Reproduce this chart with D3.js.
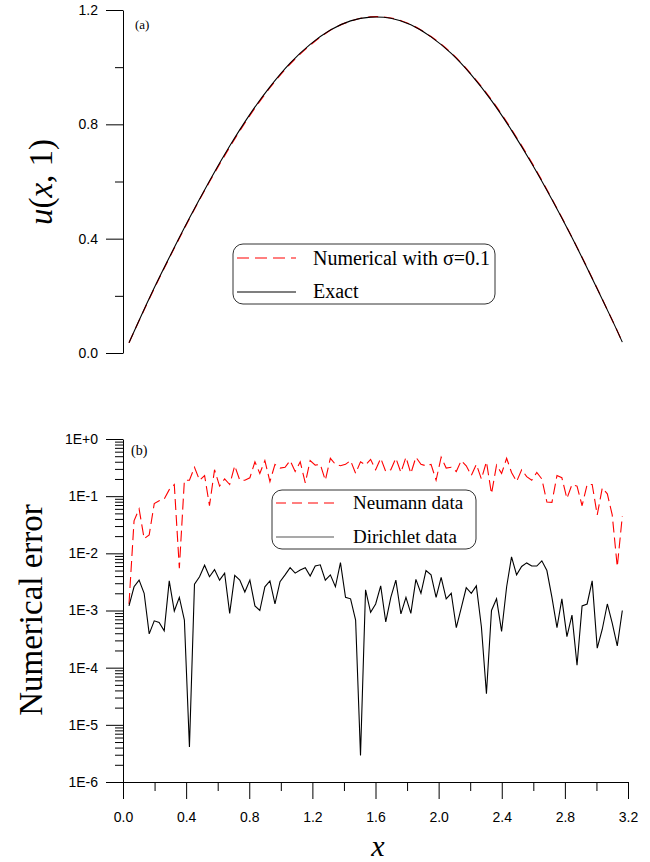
<!DOCTYPE html>
<html>
<head>
<meta charset="utf-8">
<script src="https://cdn.jsdelivr.net/npm/d3@7"></script>
<style>
  body { margin: 0; background: #fff; }
  .tick text { font-family: "Liberation Sans", Arial, sans-serif; font-size: 14px; fill: #000; }
  .serif { font-family: "Liberation Serif", "Times New Roman", serif; }
</style>
</head>
<body>
<div id="chart"></div>
<script>
// ---- data ----
// panel (a): u(x,1)
const xTop = [0.038, 0.166, 0.293, 0.421, 0.548, 0.676, 0.804, 0.931, 1.059, 1.186, 1.314, 1.442, 1.569,
  1.697, 1.824, 1.952, 2.080, 2.207, 2.335, 2.462, 2.590, 2.718, 2.845, 2.973, 3.100, 3.164];
const uExact = [0.036, 0.191, 0.334, 0.472, 0.602, 0.724, 0.835, 0.931, 1.014, 1.080, 1.130, 1.162, 1.175,
  1.171, 1.148, 1.106, 1.048, 0.973, 0.883, 0.779, 0.663, 0.537, 0.404, 0.261, 0.115, 0.038];
const uNumerical = [0.036, 0.189, 0.332, 0.470, 0.599, 0.720, 0.831, 0.928, 1.011, 1.077, 1.129, 1.161, 1.176,
  1.172, 1.149, 1.107, 1.050, 0.975, 0.886, 0.782, 0.666, 0.539, 0.405, 0.262, 0.115, 0.038];

// panel (b): numerical error
const xGrid = [0.038, 0.070, 0.102, 0.134, 0.166, 0.198, 0.229, 0.261, 0.293, 0.325, 0.357, 0.389, 0.421,
  0.453, 0.485, 0.517, 0.548, 0.580, 0.612, 0.644, 0.676, 0.708, 0.740, 0.772, 0.804, 0.836, 0.867, 0.899,
  0.931, 0.963, 0.995, 1.027, 1.059, 1.091, 1.123, 1.155, 1.186, 1.218, 1.250, 1.282, 1.314, 1.346, 1.378,
  1.410, 1.442, 1.474, 1.505, 1.537, 1.569, 1.601, 1.633, 1.665, 1.697, 1.729, 1.761, 1.793, 1.824, 1.856,
  1.888, 1.920, 1.952, 1.984, 2.016, 2.048, 2.080, 2.112, 2.143, 2.175, 2.207, 2.239, 2.271, 2.303, 2.335,
  2.367, 2.399, 2.431, 2.462, 2.494, 2.526, 2.558, 2.590, 2.622, 2.654, 2.686, 2.718, 2.750, 2.781, 2.813,
  2.845, 2.877, 2.909, 2.941, 2.973, 3.005, 3.037, 3.069, 3.100, 3.132, 3.164];
const neumannErr = [1.3e-3, 0.037, 0.060, 0.018, 0.021, 0.074, 0.083, 0.089, 0.13, 0.16, 0.0055, 0.19, 0.19,
  0.32, 0.19, 0.23, 0.068, 0.29, 0.15, 0.20, 0.16, 0.34, 0.19, 0.19,
  0.21, 0.40, 0.25, 0.42, 0.18, 0.36, 0.31, 0.32, 0.42, 0.27, 0.40, 0.17, 0.42, 0.35, 0.36, 0.19, 0.46,
  0.36, 0.34, 0.36, 0.42, 0.25, 0.40, 0.35, 0.44,
  0.29, 0.46, 0.27, 0.29, 0.46, 0.26, 0.48, 0.25, 0.48, 0.36, 0.34, 0.36, 0.19, 0.48, 0.31, 0.32, 0.27,
  0.42, 0.34, 0.23, 0.36, 0.20, 0.40, 0.11, 0.35,
  0.25, 0.46, 0.26, 0.18, 0.29, 0.22, 0.19, 0.26, 0.20, 0.079, 0.078, 0.23, 0.21, 0.091, 0.16, 0.15, 0.068,
  0.16, 0.16, 0.047, 0.14, 0.11, 0.047, 0.0058, 0.045];
const dirichletErr = [1.2e-3, 2.6e-3, 3.4e-3, 2.0e-3, 3.9e-4, 6.6e-4, 6.2e-4, 4.4e-4, 3.3e-3, 9.8e-4, 1.7e-3,
  6.8e-4, 4.1e-6, 2.9e-3, 3.9e-3, 6.2e-3, 3.9e-3, 5.2e-3, 3.4e-3, 4.5e-3, 8.9e-4, 4.1e-3, 3.4e-3, 2.1e-3,
  3.4e-3, 1.2e-3, 1.0e-3, 2.6e-3, 3.3e-3, 1.3e-3, 3.2e-3, 4.2e-3, 5.6e-3, 4.5e-3, 5.1e-3, 5.6e-3, 4.0e-3,
  6.0e-3, 6.3e-3, 3.4e-3, 4.2e-3, 2.6e-3, 6.9e-3, 1.7e-3, 1.6e-3, 6.8e-4, 2.9e-6, 2.3e-3, 9.3e-4,
  1.3e-3, 2.7e-3, 6.3e-4, 1.7e-3, 3.4e-3, 8.7e-4, 1.7e-3, 8.9e-4, 3.5e-3, 2.0e-3, 5.0e-3, 4.2e-3, 1.7e-3,
  3.8e-3, 1.6e-3, 2.0e-3, 5.0e-4, 1.1e-3, 2.5e-3, 2.0e-3, 2.7e-3, 5.2e-4, 3.5e-5, 1.0e-3, 1.6e-3,
  4.3e-4, 2.6e-3, 8.7e-3, 4.2e-3, 5.9e-3, 6.8e-3, 6.0e-3, 6.0e-3, 7.4e-3, 5.0e-3, 1.7e-3, 5.0e-4, 1.6e-3,
  3.5e-4, 8.3e-4, 1.1e-4, 1.2e-3, 1.3e-3, 3.3e-3, 2.2e-4, 4.7e-4, 1.3e-3, 6.0e-4, 2.4e-4, 1.0e-3];

const xTicks = [0.0, 0.4, 0.8, 1.2, 1.6, 2.0, 2.4, 2.8, 3.2];
const xMinorTicks = [0.2, 0.6, 1.0, 1.4, 1.8, 2.2, 2.6, 3.0];
const uTicks = [0.0, 0.4, 0.8, 1.2];
const uMinorTicks = [0.2, 0.6, 1.0];
const errTicks = [1, 1e-1, 1e-2, 1e-3, 1e-4, 1e-5, 1e-6];
const errTickLabels = ["1E+0", "1E-1", "1E-2", "1E-3", "1E-4", "1E-5", "1E-6"];

// ---- layout ----
const width = 650, height = 862;
const left = 123, right = 628;

const svg = d3.select("#chart").append("svg")
  .attr("width", width)
  .attr("height", height);

const x = d3.scaleLinear().domain([0, 3.2]).range([left, right]);
const yTop = d3.scaleLinear().domain([0, 1.2]).range([353, 10]);
const yErr = d3.scaleLog().domain([1e-6, 1]).range([782, 439]);

// ---- panel (a) ----
const gA = svg.append("g");

gA.append("g")
  .attr("transform", `translate(${left},0)`)
  .call(d3.axisLeft(yTop).tickValues(uMinorTicks).tickSize(8).tickFormat("").tickSizeOuter(0))
  .call(g => g.select(".domain").remove());
gA.append("g")
  .attr("transform", `translate(${left},0)`)
  .call(d3.axisLeft(yTop).tickValues(uTicks).tickSize(17).tickPadding(8)
    .tickFormat(d3.format(".1f")).tickSizeOuter(0));

const topData = xTop.map((v, i) => ({ x: v, exact: uExact[i], num: uNumerical[i] }));

gA.append("path")
  .datum(topData)
  .attr("fill", "none")
  .attr("stroke", "#ff0000")
  .attr("stroke-width", 1.2)
  .attr("stroke-dasharray", "10,6")
  .attr("d", d3.line().curve(d3.curveNatural).x(d => x(d.x)).y(d => yTop(d.num)));

gA.append("path")
  .datum(topData)
  .attr("fill", "none")
  .attr("stroke", "#000")
  .attr("stroke-width", 1.1)
  .attr("d", d3.line().curve(d3.curveNatural).x(d => x(d.x)).y(d => yTop(d.exact)));

gA.append("text").attr("class", "serif")
  .attr("x", 135).attr("y", 29)
  .attr("font-size", 13)
  .text("(a)");

// legend (a)
const legA = gA.append("g");
legA.append("rect")
  .attr("x", 233).attr("y", 244).attr("width", 262).attr("height", 60)
  .attr("rx", 10).attr("ry", 10)
  .attr("fill", "#fff").attr("stroke", "#333").attr("stroke-width", 1);
legA.append("line")
  .attr("x1", 237).attr("x2", 296).attr("y1", 258).attr("y2", 258)
  .attr("stroke", "#ff0000").attr("stroke-width", 1.2).attr("stroke-dasharray", "12,6");
legA.append("line")
  .attr("x1", 237).attr("x2", 296).attr("y1", 292).attr("y2", 292)
  .attr("stroke", "#000").attr("stroke-width", 1.1);
legA.append("text").attr("class", "serif")
  .attr("x", 313).attr("y", 265).attr("font-size", 20)
  .text("Numerical with σ=0.1");
legA.append("text").attr("class", "serif")
  .attr("x", 313).attr("y", 298).attr("font-size", 20)
  .text("Exact");

// axis title (a)
svg.append("text").attr("class", "serif")
  .attr("transform", "translate(52,182) rotate(-90)")
  .attr("text-anchor", "middle")
  .attr("font-size", 33)
  .html('<tspan font-style="italic">u</tspan>(<tspan font-style="italic">x</tspan>, 1)');

// ---- panel (b) ----
const gB = svg.append("g");

const minorErr = [];
errTicks.slice(1).forEach(d => { for (let k = 2; k <= 9; k++) minorErr.push(d * k); });

gB.append("g")
  .attr("transform", `translate(${left},0)`)
  .call(d3.axisLeft(yErr).tickValues(minorErr).tickSize(8).tickFormat("").tickSizeOuter(0))
  .call(g => g.select(".domain").remove());
gB.append("g")
  .attr("transform", `translate(${left},0)`)
  .call(d3.axisLeft(yErr).tickValues(errTicks).tickSize(17).tickPadding(8)
    .tickFormat((d, i) => errTickLabels[i]).tickSizeOuter(0));

gB.append("g")
  .attr("transform", "translate(0,782)")
  .call(d3.axisBottom(x).tickValues(xMinorTicks).tickSize(9).tickFormat("").tickSizeOuter(0))
  .call(g => g.select(".domain").remove());
gB.append("g")
  .attr("transform", "translate(0,782)")
  .call(d3.axisBottom(x).tickValues(xTicks).tickSize(17).tickPadding(13)
    .tickFormat(d3.format(".1f")).tickSizeOuter(0));

const errData = xGrid.map((v, i) => ({ x: v, neu: neumannErr[i], dir: dirichletErr[i] }));

gB.append("path")
  .datum(errData)
  .attr("fill", "none")
  .attr("stroke", "#ff0000")
  .attr("stroke-width", 1.1)
  .attr("stroke-dasharray", "11,5")
  .attr("d", d3.line().x(d => x(d.x)).y(d => yErr(d.neu)));

gB.append("path")
  .datum(errData)
  .attr("fill", "none")
  .attr("stroke", "#000")
  .attr("stroke-width", 1.1)
  .attr("d", d3.line().x(d => x(d.x)).y(d => yErr(d.dir)));

gB.append("text").attr("class", "serif")
  .attr("x", 131).attr("y", 455)
  .attr("font-size", 14)
  .text("(b)");

// legend (b)
const legB = gB.append("g");
legB.append("rect")
  .attr("x", 272).attr("y", 490).attr("width", 204).attr("height", 59)
  .attr("rx", 10).attr("ry", 10)
  .attr("fill", "#fff").attr("stroke", "#333").attr("stroke-width", 1);
legB.append("line")
  .attr("x1", 276).attr("x2", 334).attr("y1", 503).attr("y2", 503)
  .attr("stroke", "#ff0000").attr("stroke-width", 1.1).attr("stroke-dasharray", "10,6");
legB.append("line")
  .attr("x1", 276).attr("x2", 334).attr("y1", 537).attr("y2", 537)
  .attr("stroke", "#555").attr("stroke-width", 1.2);
legB.append("text").attr("class", "serif")
  .attr("x", 353).attr("y", 509).attr("font-size", 19)
  .text("Neumann data");
legB.append("text").attr("class", "serif")
  .attr("x", 353).attr("y", 543).attr("font-size", 19)
  .text("Dirichlet data");

// axis titles (b)
svg.append("text").attr("class", "serif")
  .attr("transform", "translate(42,610) rotate(-90)")
  .attr("text-anchor", "middle")
  .attr("font-size", 33)
  .text("Numerical error");

svg.append("text").attr("class", "serif")
  .attr("x", 378).attr("y", 856)
  .attr("text-anchor", "middle")
  .attr("font-size", 30)
  .attr("font-style", "italic")
  .text("x");
</script>
</body>
</html>
